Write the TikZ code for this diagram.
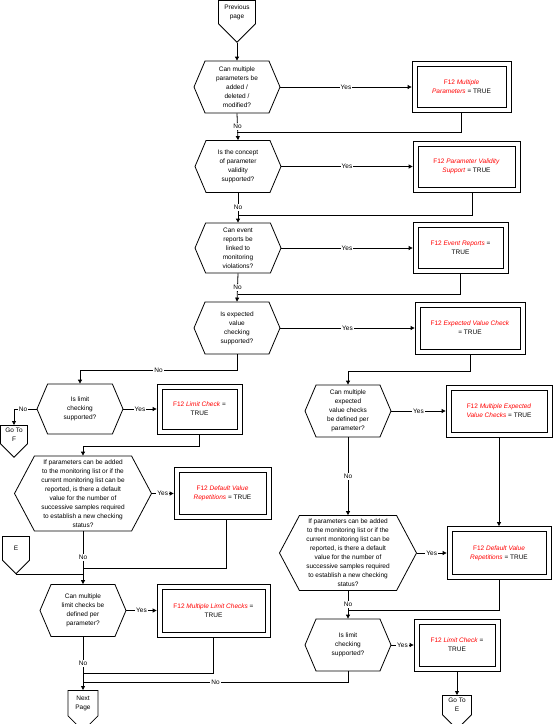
\documentclass[tikz,border=0pt]{standalone}
\usepackage{fontspec}
\setmainfont{Liberation Sans}
\setsansfont{Liberation Sans}
\usetikzlibrary{arrows.meta,shapes.symbols,calc}
\definecolor{edgec}{HTML}{000000}
\definecolor{flagc}{HTML}{FF0000}
\newcommand{\fl}[1]{\textcolor{flagc}{#1}}

\begin{document}
\begin{tikzpicture}[
  x=1pt, y=-1pt,
  font=\sffamily\fontsize{6.5}{9}\selectfont,
  >={Triangle[length=4pt, width=4pt]},
  ask/.style={signal, signal to=west and east, signal pointer angle=134,
              draw=edgec, line width=0.8pt, align=center, inner sep=0pt,
              minimum width=86pt, minimum height=52pt},
  bigask/.style={ask, signal pointer angle=124, minimum width=137pt, minimum height=75pt},
  flagbox/.style={rectangle, draw=edgec, line width=0.8pt, align=center, inner sep=0pt,
                  minimum height=51pt,
                  path picture={\draw[edgec, line width=0.8pt]
                    ([xshift=5pt, yshift=-5pt]path picture bounding box.north west) rectangle
                    ([xshift=-5pt, yshift=5pt]path picture bounding box.south east);}},
  page/.style={signal, signal to=south, signal pointer angle=90, draw=edgec,
               line width=0.8pt, align=center, inner sep=1pt, anchor=north},
  lbl/.style={fill=white, inner sep=1pt},
  flow/.style={->, draw=edgec, line width=0.8pt},
  link/.style={draw=edgec, line width=0.8pt},
]
\useasboundingbox (0,0) rectangle (553,724);

% ---- main question column ----
\node[page, minimum width=37pt, minimum height=37pt] (prev) at (237,0) {Previous\\page};
\node[ask] (q1) at (237,87) {Can multiple\\parameters be\\added /\\deleted /\\modified?};
\node[ask] (q2) at (238,166.5) {Is the concept\\of parameter\\validity\\supported?};
\node[ask, minimum height=50pt] (q3) at (238,248) {Can event\\reports be\\linked to\\monitoring\\violations?};
\node[ask] (q4) at (237,328) {Is expected\\value\\checking\\supported?};

% ---- result flags, main column ----
\node[flagbox, minimum width=99pt] (r1) at (461.5,87) {\fl{F12 \textit{Multiple}}\\\fl{\textit{Parameters}} = TRUE};
\node[flagbox, minimum width=107pt] (r2) at (466.5,166.5) {\fl{F12 \textit{Parameter Validity}}\\\fl{\textit{Support}} = TRUE};
\node[flagbox, minimum width=95pt] (r3) at (460.5,248) {\fl{F12 \textit{Event Reports}} =\\TRUE};
\node[flagbox, minimum width=110pt, minimum height=52pt] (r4) at (470,328) {\fl{F12 \textit{Expected Value Check}}\\= TRUE};

% ---- left branch (no expected value checking) ----
\node[ask, minimum height=50pt] (lq1) at (80,409) {Is limit\\checking\\supported?};
\node[flagbox, minimum width=85pt, minimum height=50pt] (lr1) at (199.5,409) {\fl{F12 \textit{Limit Check}} =\\TRUE};
\node[page, minimum width=27pt, minimum height=28pt] (gof) at (14,425) {Go To\\F};
\node[bigask] (lq2) at (83,493.5) {If parameters can be added\\to the monitoring list or if the\\current monitoring list can be\\reported, is there a default\\value for the number of\\successive samples required\\to establish a new checking\\status?};
\node[flagbox, minimum width=97pt, minimum height=52pt] (lr2) at (222.5,493.5) {\fl{F12 \textit{Default Value}}\\\fl{\textit{Repetitions}} = TRUE};
\node[page, minimum width=27pt, minimum height=27pt] (ent) at (16,536) {E};
\node[ask] (lq3) at (83,610.5) {Can multiple\\limit checks be\\defined per\\parameter?};
\node[flagbox, minimum width=113pt, minimum height=53pt] (lr3) at (213.5,610.5) {\fl{F12 \textit{Multiple Limit Checks}} =\\TRUE};
\node[page, minimum width=30pt, minimum height=34pt] (next) at (83,690) {Next\\Page};

% ---- right branch (expected value checking) ----
\node[ask] (rq1) at (348,411) {Can multiple\\expected\\value checks\\be defined per\\parameter?};
\node[flagbox, minimum width=106pt, minimum height=52pt] (rr1) at (499,411) {\fl{F12 \textit{Multiple Expected}}\\\fl{\textit{Value Checks}} = TRUE};
\node[bigask] (rq2) at (348,553) {If parameters can be added\\to the monitoring list or if the\\current monitoring list can be\\reported, is there a default\\value for the number of\\successive samples required\\to establish a new checking\\status?};
\node[flagbox, minimum width=104pt, minimum height=53pt] (rr2) at (499,553) {\fl{F12 \textit{Default Value}}\\\fl{\textit{Repetitions}} = TRUE};
\node[ask] (rq3) at (348,645) {Is limit\\checking\\supported?};
\node[flagbox, minimum width=86pt, minimum height=52pt] (rr3) at (457,645) {\fl{F12 \textit{Limit Check}} =\\TRUE};
\node[page, minimum width=29pt, minimum height=29pt] (goe) at (457,695) {Go To\\E};

% ---- junctions ----
\coordinate (j1) at (237,132);
\coordinate (j2) at (238,215);
\coordinate (j3) at (238,294);
\coordinate (j4) at (237,370);
\coordinate (j5) at (348,371);
\coordinate (j6) at (83,446);
\coordinate (j7) at (83,568);
\coordinate (j8) at (83,574);
\coordinate (j9) at (83,673);
\coordinate (j10) at (83,682);
\coordinate (j11) at (348,610);

% ---- main column flow ----
\draw[flow] (prev.south) -- (q1.north);
\draw[flow] (q1.east) -- node[lbl]{Yes} (r1.west);
\draw[link] (r1.south) |- (j1);
\draw[flow] (q1.south) -- node[lbl]{No} (q2.north);
\draw[flow] (q2.east) -- node[lbl]{Yes} (r2.west);
\draw[link] ([xshift=6pt]r2.south) |- (j2);
\draw[flow] (q2.south) -- node[lbl]{No} (q3.north);
\draw[flow] (q3.east) -- node[lbl]{Yes} (r3.west);
\draw[link] (r3.south) |- (j3);
\draw[flow] (q3.south) -- node[lbl]{No} (q4.north);
\draw[flow] (q4.east) -- node[lbl]{Yes} (r4.west);

% ---- left branch flow ----
\draw[flow] (q4.south) -- (j4) -| node[lbl, pos=0.25]{No} (lq1.north);
\draw[flow] (lq1.east) -- node[lbl]{Yes} (lr1.west);
\draw[flow] (lq1.west) -| node[lbl, pos=0.3]{No} (gof.north);
\draw[link] (lr1.south) |- (j6);
\draw[flow] (j6) -- (lq2.north);
\draw[flow] (lq2.east) -- node[lbl]{Yes} (lr2.west);
\draw[link] ([xshift=4pt]lr2.south) |- (j7);
\draw[link] (ent.south) |- (j8);
\draw[flow] (lq2.south) -- node[lbl]{No} (lq3.north);
\draw[flow] (lq3.east) -- node[lbl]{Yes} (lr3.west);
\draw[link] (lr3.south) |- (j9);
\draw[flow] (lq3.south) -- node[lbl]{No} (next.north);

% ---- right branch flow ----
\draw[flow] (r4.south) |- (j5) -- (rq1.north);
\draw[flow] (rq1.east) -- node[lbl]{Yes} (rr1.west);
\draw[flow] (rr1.south) -- (rr2.north);
\draw[flow] (rq1.south) -- node[lbl]{No} (rq2.north);
\draw[flow] (rq2.east) -- node[lbl]{Yes} (rr2.west);
\draw[link] (rr2.south) |- (j11);
\draw[flow] (rq2.south) -- node[lbl]{No} (rq3.north);
\draw[flow] (rq3.east) -- node[lbl]{Yes} (rr3.west);
\draw[flow] (rr3.south) -- (goe.north);
\draw[link] (rq3.south) |- node[lbl, pos=0.75]{No} (j10);
\end{tikzpicture}
\end{document}
